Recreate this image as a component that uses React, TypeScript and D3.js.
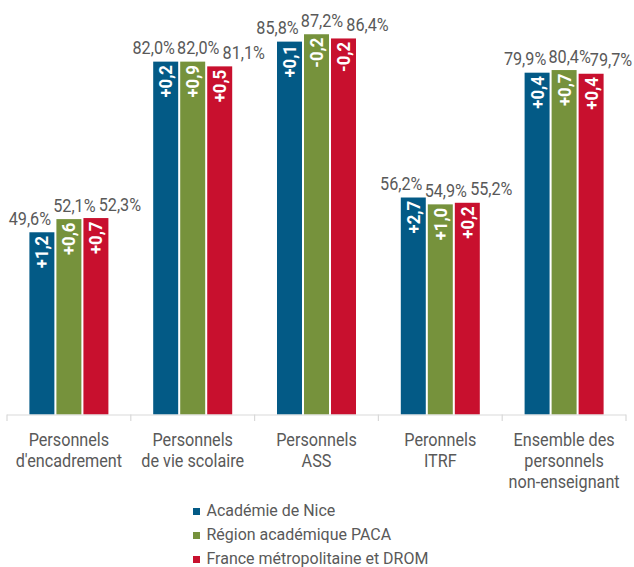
import React from "react";
import * as d3 from "d3";

const categories = [
  ["Personnels", "d'encadrement"],
  ["Personnels", "de vie scolaire"],
  ["Personnels", "ASS"],
  ["Peronnels", "ITRF"],
  ["Ensemble des", "personnels", "non-enseignant"],
];
const seriesNames = ["Académie de Nice", "Région académique PACA", "France métropolitaine et DROM"];
const seriesColors = ["#035A86", "#76923C", "#C8102E"];
const valNice = [49.6, 82.0, 85.8, 56.2, 79.9];
const valPaca = [52.1, 82.0, 87.2, 54.9, 80.4];
const valFrance = [52.3, 81.1, 86.4, 55.2, 79.7];
const evoNice = ["+1,2", "+0,2", "+0,1", "+2,7", "+0,4"];
const evoPaca = ["+0,6", "+0,9", "-0,2", "+1,0", "+0,7"];
const evoFrance = ["+0,7", "+0,5", "-0,2", "+0,2", "+0,4"];

const values = [valNice, valPaca, valFrance];
const evos = [evoNice, evoPaca, evoFrance];
// horizontal shift of value labels per series (labels spread to avoid overlap)
const labelShift = [-12, 5.5, 24];

const W = 634;
const H = 567;
const x0 = 7;
const x1 = 626;
const baseY = 414.5;
const font = "Roboto, sans-serif";
const textColor = "#595959";

function CText(props: {
  x: number;
  y: number;
  size: number;
  sx?: number;
  anchor?: string;
  fill?: string;
  weight?: string;
  rotate?: number;
  children: React.ReactNode;
}) {
  const { x, y, size, sx = 0.9, anchor = "middle", fill = textColor, weight = "normal", rotate = 0 } = props;
  return (
    <text
      transform={`translate(${x},${y}) rotate(${rotate}) scale(${sx},1)`}
      textAnchor={anchor}
      fontSize={size}
      fontWeight={weight}
      fill={fill}
    >
      {props.children}
    </text>
  );
}

export default function App() {
  const x = d3.scaleBand<number>().domain(d3.range(categories.length)).range([x0, x1]).padding(0);
  const inner = d3.scaleBand<number>().domain([0, 1, 2]).range([0, 79]).paddingInner(0.075);
  const y = d3.scaleLinear().domain([15, 90]).range([baseY, 19.5]);
  const bw = x.bandwidth();

  return (
    <svg width={W} height={H} style={{ position: "absolute", left: 0, top: 0 }} fontFamily={font}>
      {categories.map((cat, ci) => {
        const gx = x(ci)! + bw / 2 - 39.5;
        return (
          <g key={ci}>
            {values.map((vals, si) => {
              const v = vals[ci];
              const bx = gx + inner(si)!;
              const top = y(v);
              const cx = bx + inner.bandwidth() / 2;
              const lx = Math.min(cx + labelShift[si], W - 23);
              return (
                <g key={si}>
                  <rect x={bx} y={top} width={inner.bandwidth()} height={baseY - top} fill={seriesColors[si]} />
                  <CText x={lx} y={top - 7.5} size={18}>
                    {v.toFixed(1).replace(".", ",") + "%"}
                  </CText>
                  <CText x={cx + 6.5} y={top + 3.5} size={18} sx={0.93} anchor="end" weight="bold" fill="#ffffff" rotate={-90}>
                    {evos[si][ci]}
                  </CText>
                </g>
              );
            })}
            {cat.map((line, li) => (
              <CText key={li} x={x(ci)! + bw / 2} y={445.5 + li * 21.3} size={18}>
                {line}
              </CText>
            ))}
          </g>
        );
      })}
      <line x1={x0} x2={x1} y1={baseY + 0.5} y2={baseY + 0.5} stroke="#D9D9D9" strokeWidth={1.2} />
      {d3.range(categories.length + 1).map((i) => {
        const tx = i < categories.length ? x(i)! : x1;
        return <line key={i} x1={tx} x2={tx} y1={baseY} y2={baseY + 6.5} stroke="#D9D9D9" strokeWidth={1.2} />;
      })}
      {seriesNames.map((name, i) => (
        <g key={i}>
          <rect x={193} y={508 + i * 24} width={7} height={7} fill={seriesColors[i]} />
          <CText x={206.5} y={516 + i * 24} size={17} sx={0.94} anchor="start">
            {name}
          </CText>
        </g>
      ))}
    </svg>
  );
}
